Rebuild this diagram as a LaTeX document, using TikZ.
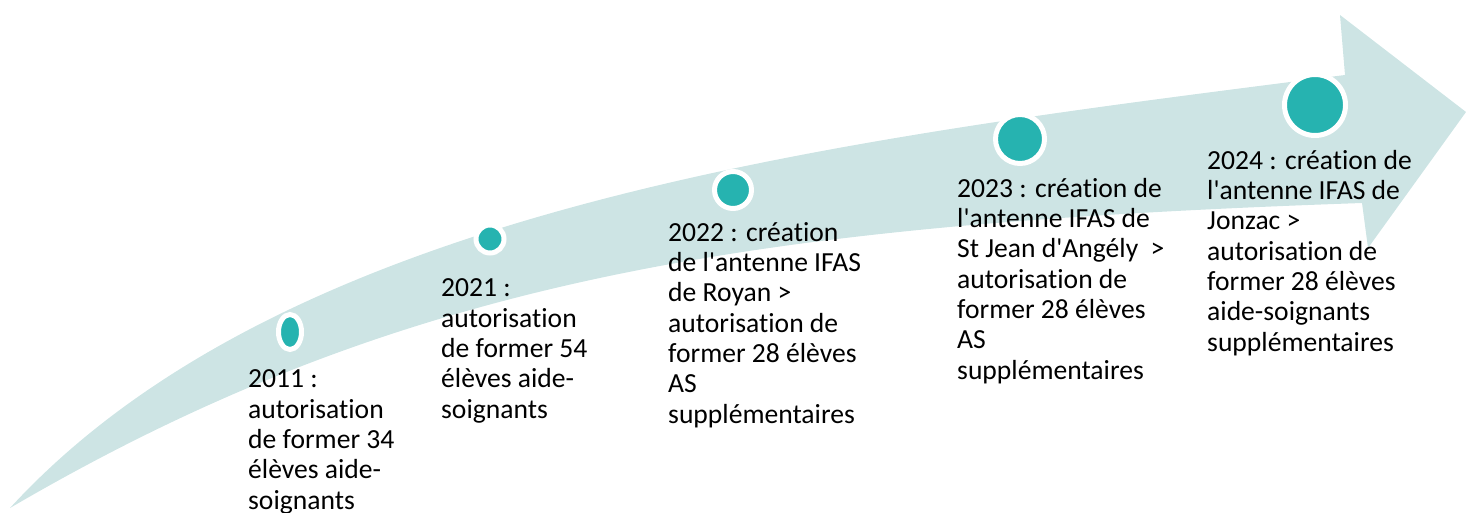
\documentclass[tikz,border=0pt]{standalone}
\usepackage{fontspec}
\setmainfont{Carlito}[Ligatures={NoCommon}]
\usetikzlibrary{shapes.geometric}

\definecolor{bandcol}{RGB}{205,228,228}
\definecolor{dotteal}{RGB}{38,179,176}

\begin{document}
\begin{tikzpicture}[x=1pt,y=-1pt,
    dot/.style={circle,fill=dotteal,draw=white,line width=5pt,inner sep=0pt},
    txt/.style={anchor=base west,align=left,inner sep=0pt,font=\fontsize{27.6}{30.3}\selectfont}]

    \useasboundingbox (0,0) rectangle (1466,513);

    % curved arrow
    \fill[bandcol] (10,508) .. controls (290,203) and (845,139) .. (1345,75)
        -- (1340,15) -- (1466,112) -- (1368,248) -- (1362,203)
        .. controls (762,224) and (410,274) .. (10,508) -- cycle;

    % milestones
    \node[dot,ellipse,minimum width=23pt,minimum height=35pt] (d2011) at (290,332) {};
    \node[dot,minimum size=28pt] (d2021) at (490,239) {};
    \node[dot,minimum size=37pt] (d2022) at (733,190) {};
    \node[dot,minimum size=49pt] (d2023) at (1020,139) {};
    \node[dot,minimum size=61pt] (d2024) at (1315,105) {};

    % texts (anchored at the baseline of their last line)
    \node[txt] (t2011) at (248,509) {2011 :\\autorisation\\de former 34\\élèves aide-\\soignants};
    \node[txt] (t2021) at (441,418) {2021 :\\autorisation\\de former 54\\élèves aide-\\soignants};
    \node[txt] (t2022) at (668,423) {2022 : création\\de l\textquotesingle antenne IFAS\\de Royan >\\autorisation de\\former 28 élèves\\AS\\supplémentaires};
    \node[txt] (t2023) at (957,379) {2023 : création de\\l\textquotesingle antenne IFAS de\\St Jean d\textquotesingle Angély\ \ >\\autorisation de\\former 28 élèves\\AS\\supplémentaires};
    \node[txt] (t2024) at (1207,351) {2024 : création de\\l\textquotesingle antenne IFAS de\\Jonzac >\\autorisation de\\former 28 élèves\\aide-soignants\\supplémentaires};
\end{tikzpicture}
\end{document}
